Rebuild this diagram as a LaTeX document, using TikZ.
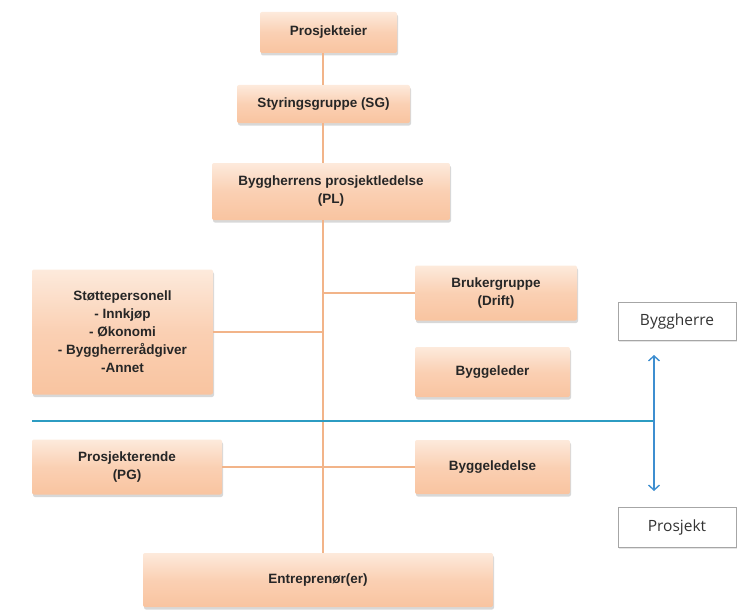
\documentclass[tikz,border=0pt]{standalone}
\usepackage{fontspec}
\setmainfont{Liberation Sans}
\newfontfamily\sidefont{Open Sans}
\usepackage{xcolor}
\usepackage{tikz}
\usetikzlibrary{positioning,shadows,arrows.meta}

\definecolor{peach}{HTML}{F9C4A0}
\definecolor{peachlight}{HTML}{FDEADC}
\definecolor{linkorange}{HTML}{F2B489}
\definecolor{divblue}{HTML}{2C9CC2}
\definecolor{arrblue}{HTML}{3E8ED0}

\begin{document}
\begin{tikzpicture}[x=1pt, y=-1pt, text centered]
  % Styles
  \tikzstyle{box}=[rectangle, rounded corners=2pt, top color=peachlight, bottom color=peach, middle color=peach!80!white, drop shadow={shadow xshift=1pt, shadow yshift=-2.5pt, fill=gray!60}, inner sep=2pt, align=center, font=\fontsize{13.5}{18}\selectfont\bfseries, text=black!85]
  \tikzstyle{tag}=[rectangle, draw=gray!70, fill=white, drop shadow={shadow xshift=1pt, shadow yshift=-1.5pt, fill=gray!40}, font=\sidefont\fontsize{15.5}{18}\selectfont, text=black!80]
  \tikzstyle{link}=[draw=linkorange, line width=1.2pt]

  \useasboundingbox (0,0) rectangle (737,610);

  % Top of the chain
  \node[box, minimum width=137, minimum height=41] (eier) at (328.5,32.5) {Prosjekteier};
  \node[box, minimum width=173, minimum height=38] (sg) at (323.5,104) {Styringsgruppe (SG)};
  \node[box, minimum width=238, minimum height=57] (pl) at (331,191.5) {Byggherrens prosjektledelse\\(PL)};
  % Byggherre side
  \node[box, minimum width=181, minimum height=125] (stotte) at (122.5,332) {St\o ttepersonell\\- Innkj\o p\\- \O konomi\\- Byggherrer\aa dgiver\\-Annet};
  \node[box, minimum width=162, minimum height=55] (bruker) at (496,293) {Brukergruppe\\(Drift)};
  \node[box, minimum width=155, minimum height=50] (leder) at (492.5,372) {Byggeleder};
  % Prosjekt side
  \node[box, minimum width=190, minimum height=55] (pg) at (127,467) {Prosjekterende\\(PG)};
  \node[box, minimum width=155, minimum height=54] (ledelse) at (492.5,467) {Byggeledelse};
  \node[box, minimum width=350, minimum height=54] (entr) at (318,580) {Entrepren\o r(er)};
  % Side tags
  \node[tag, minimum width=118, minimum height=38] (bh) at (677,321) {Byggherre};
  \node[tag, minimum width=118, minimum height=40] (pr) at (677,527) {Prosjekt};

  % Trunk and divider points
  \coordinate (trunk) at (323,0);
  \coordinate (divl) at (32,421);
  \coordinate (divr) at (654,421);
  \coordinate (arrtop) at (654,355);
  \coordinate (arrbot) at (654,491);

  % Lines
  \draw[link] (eier.south -| trunk) -- (sg.north -| trunk);
  \draw[link] (sg.south -| trunk) -- (pl.north -| trunk);
  \draw[link] (pl.south -| trunk) -- (entr.north -| trunk);
  \draw[link] (stotte.east) -- (stotte.east -| trunk);
  \draw[link] (bruker.west -| trunk) -- (bruker.west);
  \draw[link] (pg.east) -- (pg.east -| trunk);
  \draw[link] (ledelse.west -| trunk) -- (ledelse.west);
  \draw[divblue, line width=2pt] (divl) -- (divr);
  \draw[arrblue, line width=1.4pt, {Straight Barb[length=5pt, width=11pt]}-{Straight Barb[length=5pt, width=11pt]}] (arrtop) -- (arrbot);
\end{tikzpicture}
\end{document}
